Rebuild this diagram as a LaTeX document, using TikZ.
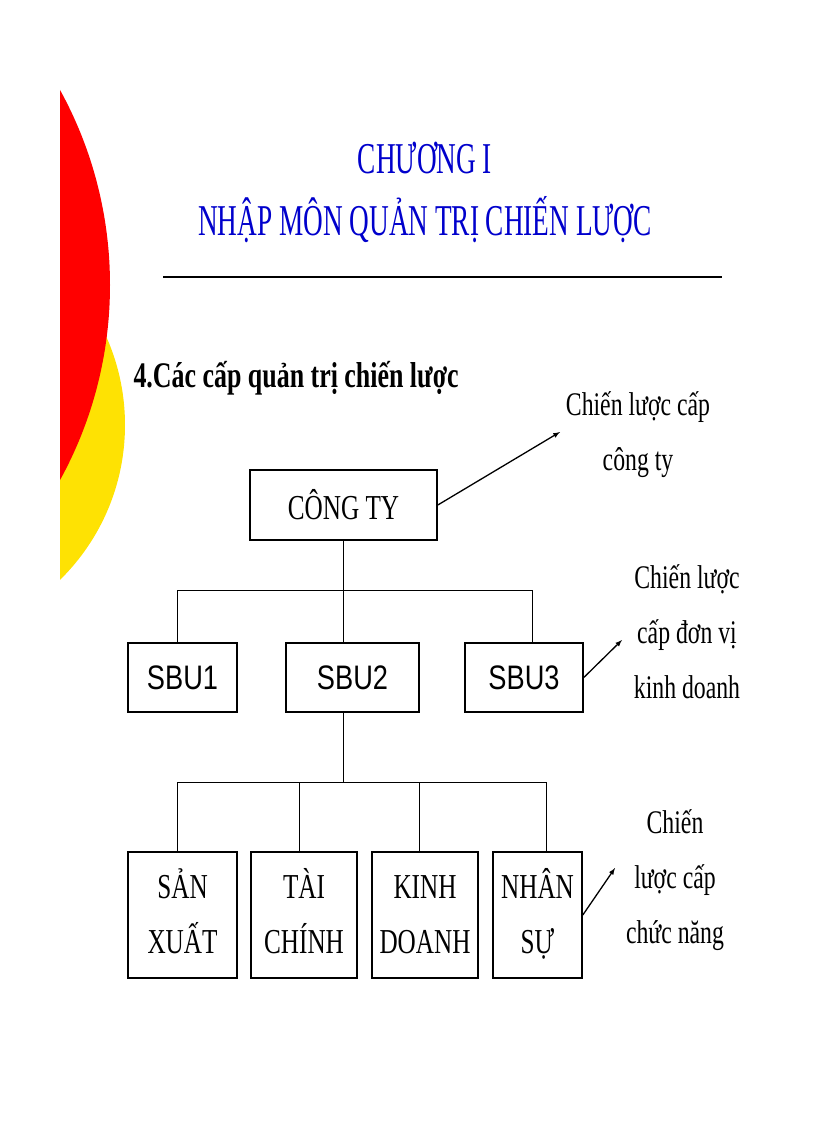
\documentclass[tikz,border=0pt]{standalone}
\usepackage{fontspec}
\setmainfont{Liberation Serif}[FakeStretch=0.72]
\newfontfamily\titlefont{Liberation Serif}[FakeStretch=0.62]
\newfontfamily\sbufont{Liberation Sans}[FakeStretch=0.8]
\begin{document}
\begin{tikzpicture}[x=1pt,y=-1pt,
  box/.style={draw,line width=1.6pt,minimum height=#1,inner sep=0pt,font=\fontsize{35}{55}\selectfont,align=center},
  lbl/.style={font=\fontsize{33}{55}\selectfont,align=center},
  arr/.style={line width=1.3pt,-latex}]
\useasboundingbox (0,0) rectangle (816,1123);
\begin{scope}
\clip (60,0) rectangle (816,1123);
\fill[yellow!85!orange] (-92,425) circle (217);
\fill[red] (-295,285) circle (405);
\end{scope}
\node[text=blue!80!black,font=\titlefont\fontsize{44}{50}\selectfont] (t1) at (425,158) {CHƯƠNG I};
\node[text=blue!80!black,font=\titlefont\fontsize{44}{50}\selectfont] (t2) at (425,220) {NHẬP MÔN QUẢN TRỊ CHIẾN LƯỢC};
\coordinate (la) at (163,277); \coordinate (lb) at (722,277);
\draw[line width=1.8pt] (la) -- (lb);
\node[anchor=west,font=\bfseries\fontsize{36}{40}\selectfont] (h) at (130,378) {4.Các cấp quản trị chiến lược};

\node[box=70pt,minimum width=187pt] (cty) at (343.5,505) {CÔNG TY};
\node[box=69pt,minimum width=109pt,font=\sbufont\fontsize{34}{36}\selectfont] (s1) at (182.5,677.5) {SBU1};
\node[box=69pt,minimum width=133pt,font=\sbufont\fontsize{34}{36}\selectfont] (s2) at (352.5,677.5) {SBU2};
\node[box=69pt,minimum width=118pt,font=\sbufont\fontsize{34}{36}\selectfont] (s3) at (524,677.5) {SBU3};
\node[box=126pt,minimum width=109pt] (b1) at (182.5,915) {\strut SẢN\\\strut XUẤT};
\node[box=126pt,minimum width=106pt] (b2) at (304,915) {\strut TÀI\\\strut CHÍNH};
\node[box=126pt,minimum width=106pt] (b3) at (425,915) {\strut KINH\\\strut DOANH};
\node[box=126pt,minimum width=89pt] (b4) at (537.5,915) {\strut NHÂN\\\strut SỰ};

\coordinate (j1) at (343,590); \coordinate (j2) at (343,782);
\draw (cty.south -| j1) -- (j1);
\draw (177,590) -- (532,590);
\draw (177,590) -- (177,643);
\draw (532,590) -- (532,643);
\draw (j1) -- (343,643);
\draw (343,712) -- (j2);
\draw (177,782) -- (546,782);
\draw (177,782) -- (177,852);
\draw (299,782) -- (299,852);
\draw (419,782) -- (419,852);
\draw (546,782) -- (546,852);

\node[lbl] (l1) at (638,435) {Chiến lược cấp\\công ty};
\node[lbl] (l2) at (687,632) {Chiến lược\\cấp đơn vị\\kinh doanh};
\node[lbl] (l3) at (675,880) {Chiến\\lược cấp\\chức năng};
\coordinate (a1) at (560,432); \coordinate (a2) at (622,640); \coordinate (a3) at (615,868);
\draw[arr] (cty.east) -- (a1);
\draw[arr] (s3.east) -- (a2);
\draw[arr] (b4.east) -- (a3);
\end{tikzpicture}
\end{document}
